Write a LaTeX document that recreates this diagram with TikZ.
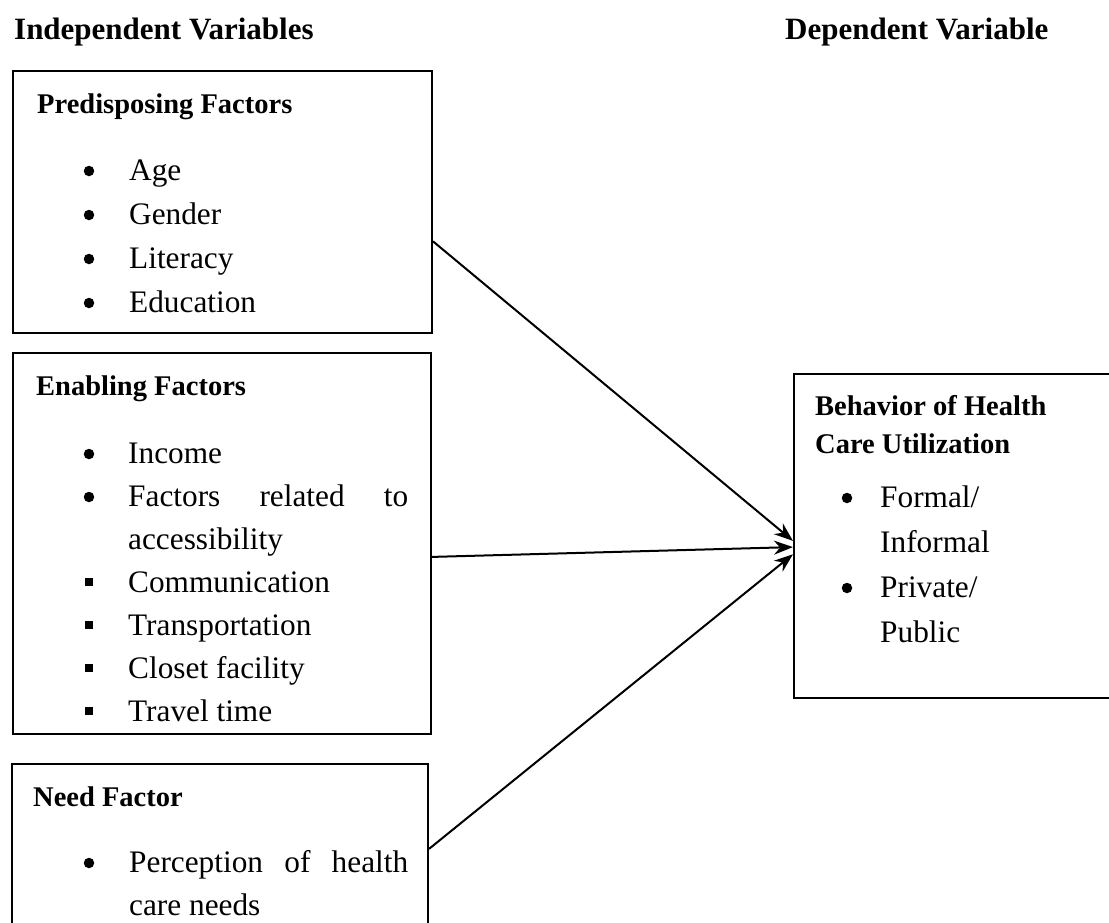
\documentclass[tikz,border=0pt]{standalone}
\usepackage{fontspec}
\setmainfont{Liberation Serif}
\usetikzlibrary{arrows.meta,calc}
\begin{document}
\begin{tikzpicture}[x=1pt,y=-1pt,
  box/.style={draw, line width=2pt, anchor=north west, inner sep=0pt},
  hdr/.style={anchor=base west, inner sep=0pt, font=\fontsize{31}{36}\selectfont\bfseries},
  ttl/.style={anchor=base west, inner sep=0pt, font=\fontsize{28.5}{34}\selectfont\bfseries},
  txt/.style={anchor=base west, inner sep=0pt, font=\fontsize{31.3}{38}\selectfont},
  dot/.style={circle, fill=black, draw=none, inner sep=0pt, minimum size=10.5pt},
  sq/.style={rectangle, fill=black, draw=none, inner sep=0pt, minimum size=8pt},
  link/.style={line width=2pt, -{Stealth[length=19pt,width=14pt]}}]
\clip (0,0) rectangle (1109,922);
\useasboundingbox (0,0) rectangle (1109,922);
% headers
\node[hdr] (h1) at (14,39) {Independent Variables};
\node[hdr] (h2) at (785,39) {Dependent Variable};
% boxes
\node[box, minimum width=419pt, minimum height=262pt] (b1) at (12,70) {};
\node[box, minimum width=418pt, minimum height=381pt] (b2) at (12,352) {};
\node[box, minimum width=416pt, minimum height=180pt] (b3) at (11,763) {};
\node[box, minimum width=330pt, minimum height=324pt] (b4) at (793,373) {};
% box 1
\node[ttl] (t1) at (37,113) {Predisposing Factors};
\node[dot] (d11) at (89,171) {}; \node[txt] (a11) at (129,180) {Age};
\node[dot] (d12) at (89,215) {}; \node[txt] (a12) at (129,224) {Gender};
\node[dot] (d13) at (89,259) {}; \node[txt] (a13) at (129,268) {Literacy};
\node[dot] (d14) at (89,303) {}; \node[txt] (a14) at (129,312) {Education};
% box 2
\node[ttl] (t2) at (36,395) {Enabling Factors};
\node[dot] (d21) at (89,454) {}; \node[txt] (a21) at (128,463) {Income};
\node[dot] (d22) at (89,497) {}; \node[txt] (a22) at (128,506) {\makebox[280pt][s]{Factors related to}};
\node[txt] (a23) at (128,549) {accessibility};
\node[sq] (s21) at (89,582) {}; \node[txt] (a24) at (128,592) {Communication};
\node[sq] (s22) at (89,625) {}; \node[txt] (a25) at (128,635) {Transportation};
\node[sq] (s23) at (89,668) {}; \node[txt] (a26) at (128,678) {Closet facility};
\node[sq] (s24) at (89,711) {}; \node[txt] (a27) at (128,721) {Travel time};
% box 3
\node[ttl] (t3) at (33,806) {Need Factor};
\node[dot] (d31) at (89,863) {}; \node[txt] (a31) at (129,872) {\makebox[279pt][s]{Perception of health}};
\node[txt] (a32) at (129,915) {care needs};
% box 4
\node[ttl] (t4) at (815,415) {Behavior of Health};
\node[ttl] (t5) at (815,453) {Care Utilization};
\node[dot] (d41) at (847,498) {}; \node[txt] (a41) at (880,507) {Formal/};
\node[txt] (a42) at (880,552) {Informal};
\node[dot] (d42) at (847,588) {}; \node[txt] (a43) at (880,597) {Private/};
\node[txt] (a44) at (880,642) {Public};
% arrows
\draw[link] ($(b1.north east)!0.649!(b1.south east)$) -- ($(b4.north west)!0.515!(b4.south west)$);
\draw[link] ($(b2.north east)!0.535!(b2.south east)$) -- ($(b4.north west)!0.534!(b4.south west)$);
\draw[link] ($(b3.north east)!0.472!(b3.south east)$) -- ($(b4.north west)!0.556!(b4.south west)$);
\end{tikzpicture}
\end{document}
